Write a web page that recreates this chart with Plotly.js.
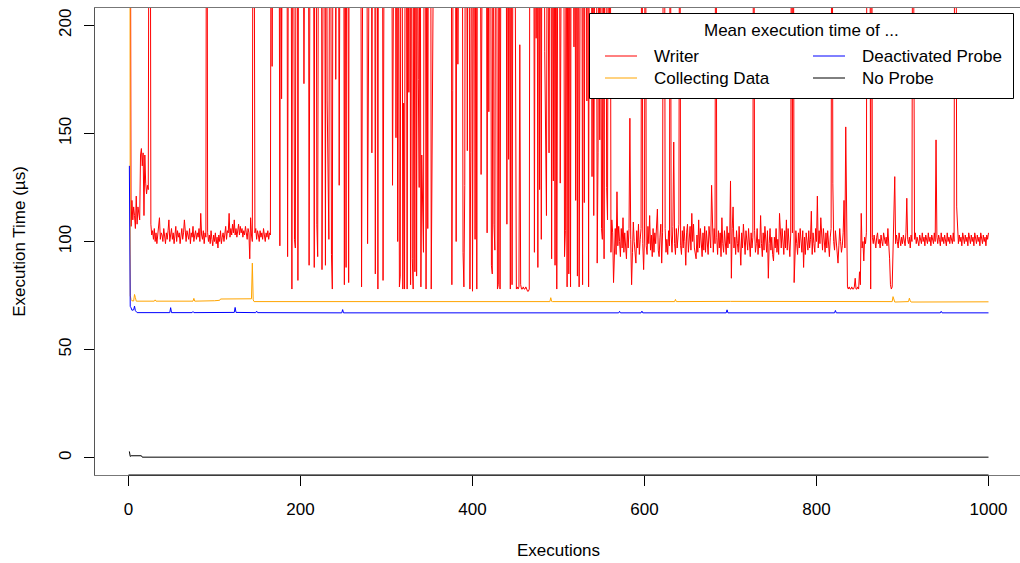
<!DOCTYPE html>
<html><head><meta charset="utf-8">
<script src="https://cdn.plot.ly/plotly-3.0.1.min.js"></script>
<style>html,body{margin:0;padding:0;overflow:hidden;background:#fff}#chart{width:1022px;height:563px}</style>
</head><body><div id="chart"></div>
<script>
// Writer: mean execution time per execution (µs), executions 1..1000
const writer = [
350,320,107,119,110,116,112,106,121,108,
116,112,110,140,143,135,141,112,140,127,
122,126,124,330,380,108,103,105,101,106,
100,104,99,103,107,111,101,104,103,100,
106,102,99,104,101,105,110,100,103,106,
101,104,99,103,107,100,105,102,104,99,
103,106,101,104,110,102,100,105,103,101,
106,99,104,102,107,100,103,105,101,104,
102,106,100,113,103,101,105,99,104,102,
420,104,100,103,99,105,101,98,103,100,
104,99,102,97,103,100,105,99,102,104,
100,103,107,101,105,104,113,102,106,103,
108,104,110,103,106,102,105,108,103,107,
104,106,102,105,103,107,104,101,106,104,
92,111,103,100,360,290,104,106,101,105,
103,100,105,102,104,101,106,103,100,104,
102,105,101,104,103,340,181,290,410,350,
300,450,380,320,290,98,360,166,195,420,
310,280,390,340,93,300,450,360,290,78,
330,280,101,97,300,420,82,350,310,280,
400,330,290,173,360,300,420,280,330,89,
310,380,290,350,300,88,420,330,108,93,
300,360,280,410,87,330,300,290,89,380,
165,135,101,320,290,94,78,350,300,420,
175,300,380,290,126,330,410,300,280,350,
80,300,88,360,290,81,420,300,350,280,
390,330,300,410,280,360,300,450,320,290,
79,340,300,420,290,350,310,99,380,300,
290,410,141,330,300,360,85,290,350,78,
420,300,330,290,380,82,310,350,290,420,
300,360,280,330,410,290,126,350,300,380,
148,300,100,290,79,84,360,300,78,164,
78,350,290,78,300,169,410,80,330,92,
78,300,86,360,84,290,175,125,330,79,
140,110,95,300,380,78,290,106,350,300,
420,78,140,330,290,360,300,450,310,280,
390,330,300,410,290,350,310,280,420,300,
360,290,330,300,410,80,170,350,290,300,
100,360,182,300,290,410,330,300,95,79,
126,350,300,142,380,290,78,141,330,77,
300,360,101,290,78,350,300,410,290,131,
330,300,380,290,360,300,104,290,160,350,
300,89,85,330,108,96,300,290,78,80,
360,78,300,410,290,350,300,330,290,108,
380,138,300,78,350,80,290,410,300,125,
78,79,78,79,191,80,78,78,79,78,
78,79,78,77,77,78,360,300,290,410,
330,95,300,194,290,88,350,124,300,101,
360,290,330,188,141,112,300,177,141,290,
350,92,300,128,290,89,330,78,300,360,
290,127,350,300,410,290,93,105,300,79,
330,85,290,79,360,300,290,190,300,119,
290,84,350,79,300,330,290,80,360,118,
300,290,165,350,79,300,290,330,130,300,
112,290,350,300,90,141,300,147,290,106,
101,300,92,350,290,125,110,300,166,350,
95,110,104,81,99,106,94,123,98,107,
100,93,106,97,111,95,104,99,92,105,
97,106,157,101,80,95,109,100,96,90,
105,97,108,94,101,106,350,99,87,103,
380,98,94,107,99,112,96,103,93,106,
95,104,99,107,115,96,93,102,108,90,
104,300,360,106,95,101,94,105,98,320,
103,95,107,146,99,94,106,97,101,108,
340,98,94,105,97,107,100,89,104,108,
95,101,107,96,113,100,108,97,94,92,
103,95,110,97,106,99,93,104,96,107,
95,105,98,94,107,100,97,126,103,95,
106,99,370,102,94,105,97,104,93,111,
99,95,105,101,94,107,97,104,99,128,
83,106,116,97,102,94,105,99,95,107,
100,89,104,97,108,99,94,105,101,96,
106,98,93,104,97,102,350,105,95,99,
106,94,101,97,112,99,93,104,96,107,
100,95,105,83,99,106,96,102,94,91,
102,97,106,95,101,94,113,104,97,106,
99,94,105,97,110,96,106,99,93,103,
330,104,310,81,97,105,99,94,104,97,
106,99,95,105,88,102,94,104,99,96,
105,97,101,114,94,104,99,95,106,100,
121,97,105,99,111,101,96,106,100,95,
104,97,105,99,93,102,106,360,127,100,
96,105,99,94,90,98,106,100,95,98,
104,119,97,153,122,79,78,79,78,78,
79,78,78,79,83,78,78,79,78,86,
80,113,97,100,91,102,99,104,380,250,
340,300,78,360,102,99,103,100,97,102,
104,99,101,97,103,100,98,104,101,99,
102,98,106,100,92,80,78,79,95,103,
130,99,103,100,97,104,101,98,102,99,
103,100,98,104,120,101,99,102,97,103,
100,350,163,101,104,99,102,100,98,103,
101,99,104,100,102,98,103,101,99,104,
100,102,98,103,101,99,104,100,147,102,
99,103,101,98,104,100,102,99,103,101,
98,104,100,102,99,103,101,99,104,100,
380,340,116,101,99,103,100,102,98,104,
101,99,103,100,102,98,104,101,99,103,
100,102,98,104,101,99,103,100,102,98,
104,101,99,103,100,102,98,103,101,104
];
// Collecting Data (change points of a nearly flat series)
const collectingX = [1,2,3,4,6,7,8,9,30,31,32,60,75,76,77,100,106,107,143,144,145,146,200,300,400,490,491,492,493,600,635,636,637,700,800,888,889,890,891,907,908,909,910,1000];
const collectingY = [700,75,73.2,72.6,72.5,75.5,74,72.4,72.4,73.0,72.4,72.3,72.4,73.7,72.4,72.6,72.8,73.4,73.5,90,73,72.2,72.2,72.2,72.3,72.2,74,72.3,72.2,72.2,72.2,73.2,72.2,72.3,72.2,72.2,74.5,73.2,72,72.2,73.8,72.5,72,72.1];
// Deactivated Probe
const deactivatedX = [1,2,3,4,6,7,8,9,10,48,49,50,74,75,76,123,124,125,148,149,150,248,249,250,400,570,571,572,596,597,598,695,696,697,821,822,823,944,945,946,1000];
const deactivatedY = [135,70,69.3,68.2,68.4,70.1,68,67.2,67.1,67.1,69.4,67.1,67.1,67.6,67.1,67.2,69.5,67.2,67.1,67.8,67.1,67,68.5,67,66.9,67,67.7,67,67,67.8,67,67,68.4,67,67,68.1,67,67,67.7,67,67];
// No Probe
const noProbeX = [1,2,3,15,16,1000];
const noProbeY = [2.9,0.6,0.9,0.9,0.25,0.25];

const seriesNames = ["Writer","Collecting Data","Deactivated Probe","No Probe"];
const seriesColors = ["#FF0000","#FFA500","#0000FF","#000000"];
const xTicks = [0,200,400,600,800,1000];
const yTicks = [0,50,100,150,200];
const legendTitle = "Mean execution time of ...";

const writerX = writer.map((v,i)=>i+1);
const font = {family:"Liberation Sans, Arial, sans-serif", size:17, color:"#000"};

const traces = [
  {x:writerX, y:writer, name:seriesNames[0]},
  {x:collectingX, y:collectingY, name:seriesNames[1]},
  {x:deactivatedX, y:deactivatedY, name:seriesNames[2]},
  {x:noProbeX, y:noProbeY, name:seriesNames[3]}
].map((t,k)=>Object.assign(t,{type:"scatter",mode:"lines",line:{color:seriesColors[k],width:1},hoverinfo:"skip",showlegend:false}));

// layout geometry (pixels)
const W=1022,H=563,L=95,R=0,T=8,B=88;
const pw=W-L-R, ph=H-T-B;
const fx=p=>(p-L)/pw, fy=p=>(H-B-p)/ph;

const shapes=[
  {type:"line",xref:"x",yref:"paper",x0:xTicks[0],x1:xTicks[xTicks.length-1],y0:0,y1:0,line:{color:"#000",width:1.2}},
  {type:"rect",xref:"paper",yref:"paper",x0:fx(589.5),x1:fx(1013.5),y0:fy(98.5),y1:fy(13.5),line:{color:"#000",width:1},fillcolor:"#fff",layer:"above"}
];
const annotations=[
  {xref:"paper",yref:"paper",x:fx(801),y:fy(30),text:legendTitle,showarrow:false,xanchor:"center",yanchor:"middle",font:font}
];
const cols=[[605,637,652],[813,845,860]];
const rows=[56,78];
const order=[[0,0,0],[1,1,0],[2,0,1],[3,1,1]]; // series, row, col
order.forEach(([s,r,c])=>{
  shapes.push({type:"line",xref:"paper",yref:"paper",x0:fx(cols[c][0]),x1:fx(cols[c][1]),y0:fy(rows[r]),y1:fy(rows[r]),line:{color:seriesColors[s],width:1},layer:"above"});
  annotations.push({xref:"paper",yref:"paper",x:fx(cols[c][2]),y:fy(rows[r]),text:seriesNames[s],showarrow:false,xanchor:"left",yanchor:"middle",font:font});
});

const layout={
  width:W,height:H,margin:{l:L,r:R,t:T,b:B,pad:0},
  paper_bgcolor:"#fff",plot_bgcolor:"#fff",font:font,showlegend:false,
  xaxis:{range:[-38.95,-38.95+pw/0.86],tickvals:xTicks,ticktext:xTicks.map(String),ticks:"outside",ticklen:10,tickwidth:1,tickcolor:"#000",
    ticklabelstandoff:9,
    showgrid:false,zeroline:false,showline:true,mirror:true,linecolor:"#777",linewidth:1,tickfont:font,
    title:{text:"Executions",font:font,standoff:25}},
  yaxis:{range:[-8,208],tickvals:yTicks,ticktext:yTicks.map(String),ticks:"outside",ticklen:10,tickwidth:1,tickcolor:"#000",tickangle:-90,
    ticklabelstandoff:6,
    showgrid:false,zeroline:false,showline:true,mirror:false,linecolor:"#555",linewidth:1,tickfont:font,
    title:{text:"Execution Time (µs)",font:font,standoff:26}},
  shapes:shapes,annotations:annotations
};
Plotly.newPlot("chart",traces,layout,{staticPlot:true,displayModeBar:false});
</script></body></html>
